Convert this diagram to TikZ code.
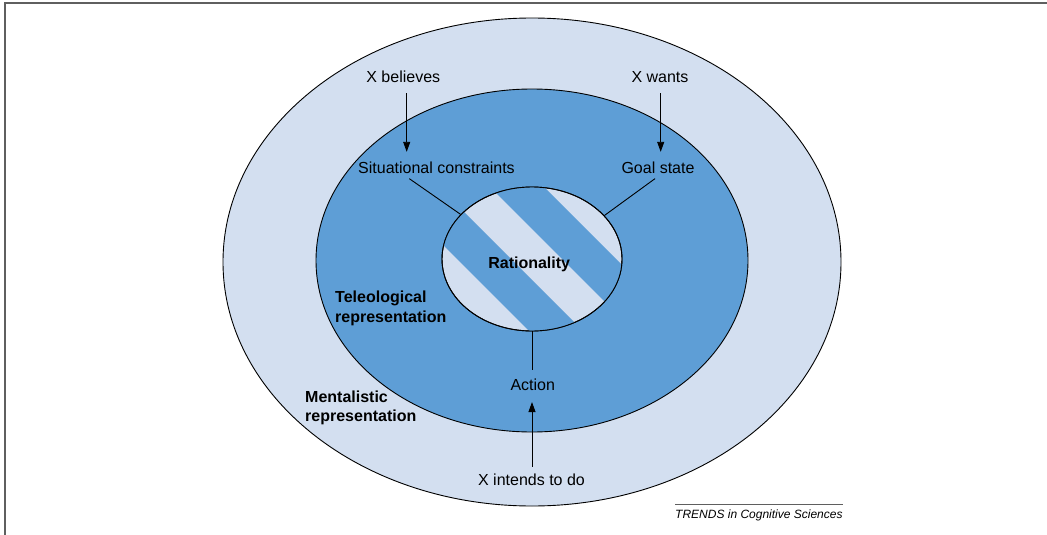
\documentclass[tikz,border=0pt]{standalone}
\usepackage{fontspec}
\setmainfont{Liberation Sans}
\usetikzlibrary{shapes.geometric,arrows.meta}
\definecolor{ringlight}{RGB}{211,223,240}
\definecolor{ringdark}{RGB}{94,158,214}
\definecolor{framegray}{RGB}{95,95,95}
\begin{document}
\begin{tikzpicture}[x=1pt,y=-1pt,
  ring/.style={ellipse, draw=black, line width=0.9pt, inner sep=0pt},
  lbl/.style={inner sep=0pt, anchor=base, font=\fontsize{16}{19}\selectfont},
  head/.style={inner sep=0pt, anchor=base west, font=\fontsize{16}{19}\selectfont\bfseries},
  link/.style={draw=black, line width=0.9pt},
  arr/.style={link, -{Triangle[length=10pt,width=7pt]}}]
\useasboundingbox (0,0) rectangle (1047,535);
% page frame, open on the right and bottom
\draw[framegray, line width=1.4pt] (5,535) -- (5,3) -- (1047,3);
% nested rings
\node[ring, fill=ringlight, minimum width=618pt, minimum height=488pt] (outer) at (532,262) {};
\node[ring, fill=ringdark, minimum width=432pt, minimum height=343pt] (middle) at (532,260.5) {};
\node[ring, fill=ringlight, minimum width=180pt, minimum height=144pt] (rat) at (532,259) {};
% diagonal stripes inside the core
\begin{scope}
  \clip (532,259) ellipse [x radius=90pt, y radius=72pt];
  \fill[ringdark] (344.5,146.5) -- (644.5,446.5) -- (671.5,419.5) -- (371.5,119.5) -- cycle;
  \fill[ringdark] (397,94) -- (697,394) -- (724,367) -- (424,67) -- cycle;
\end{scope}
\node[ring, minimum width=180pt, minimum height=144pt] at (rat.center) {};
% labels
\node[lbl] (believes) at (403.3,83) {X believes};
\node[lbl] (wants) at (660,83) {X wants};
\node[lbl] (sit) at (436.5,173) {Situational constraints};
\node[lbl] (goal) at (658,173) {Goal state};
\node[lbl, font=\fontsize{16}{19}\selectfont\bfseries] (rattext) at (529.2,268.3) {Rationality};
\node[lbl] (act) at (532.8,390) {Action};
\node[lbl] (intends) at (531.5,485) {X intends to do};
\node[head] (tel1) at (335,302.7) {Teleological};
\node[head] (tel2) at (335,322.7) {representation};
\node[head] (men1) at (305,402.3) {Mentalistic};
\node[head] (men2) at (305,421) {representation};
% connectors
\coordinate (bStart) at ([xshift=3.4pt,yshift=-10pt]believes.south);
\draw[arr, shorten >=9.4pt] (bStart) -- (bStart |- sit.north);
\coordinate (wStart) at ([xshift=0.7pt,yshift=-10pt]wants.south);
\draw[arr, shorten >=9.4pt] (wStart) -- (wStart |- goal.north);
\draw[link] ([xshift=-27.2pt,yshift=-5.3pt]sit.south) -- (rat.148.8);
\draw[link] ([xshift=-3pt,yshift=-5.3pt]goal.south) -- (rat.31);
\draw[link, shorten >=8.5pt] (rat.south) -- (rat.south |- act.north);
\draw[arr, shorten <=6.7pt, shorten >=11.7pt] (rat.south |- intends.north) -- (rat.south |- act.south);
% source credit
\node[inner sep=0pt, anchor=base west, font=\fontsize{12}{14}\selectfont\itshape] (credit) at (675,518.3) {TRENDS in Cognitive Sciences};
\draw[framegray, line width=0.7pt] ([yshift=4.6pt]credit.north west) -- ([yshift=4.6pt]credit.north east);
\end{tikzpicture}
\end{document}
